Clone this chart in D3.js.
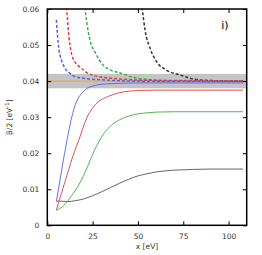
<!DOCTYPE html>
<html>
<head>
<meta charset="utf-8">
<script src="https://cdn.jsdelivr.net/npm/d3@7"></script>
<style>
  body { margin: 0; background: #fff; }
  svg text { font-family: "DejaVu Sans", sans-serif; }
</style>
</head>
<body>
<div id="chart"></div>
<script>
// x ticks and y ticks
const xTicks = [0, 25, 50, 75, 100];
const yTicks = [0, 0.01, 0.02, 0.03, 0.04, 0.05, 0.06];

// reference value and band
const refValue = 0.04;
const bandLow = 0.038, bandHigh = 0.042;

// solid curves
const blueSolidX = [5, 6, 7, 8, 9, 10, 11, 12, 13, 14, 15, 16, 18, 20, 22, 25, 28, 32, 40, 50, 108];
const blueSolidY = [0.0067, 0.0095, 0.0125, 0.0155, 0.0185, 0.0212, 0.024, 0.0265, 0.029, 0.031, 0.0328, 0.0342, 0.036, 0.0372, 0.038, 0.0386, 0.039, 0.0392, 0.0394, 0.0395, 0.0395];
const redSolidX = [5, 6, 7, 8, 10, 12, 14, 16, 18, 20, 22, 25, 28, 32, 36, 40, 45, 50, 60, 108];
const redSolidY = [0.0042, 0.006, 0.0076, 0.0092, 0.0125, 0.0158, 0.019, 0.0218, 0.0245, 0.0275, 0.03, 0.0325, 0.0342, 0.0354, 0.0362, 0.0368, 0.0372, 0.0374, 0.0375, 0.0375];
const greenSolidX = [5, 6, 8, 10, 12, 14, 16, 18, 20, 22, 24, 26, 28, 30, 32, 35, 40, 45, 50, 55, 60, 70, 108];
const greenSolidY = [0.0042, 0.0044, 0.005, 0.006, 0.0072, 0.0086, 0.0101, 0.0118, 0.0138, 0.016, 0.0185, 0.0208, 0.0228, 0.0245, 0.026, 0.0276, 0.0293, 0.0303, 0.0309, 0.0312, 0.0314, 0.0315, 0.0315];
const blackSolidX = [5, 8, 10, 12, 15, 20, 25, 30, 35, 40, 45, 50, 55, 60, 65, 70, 75, 80, 90, 108];
const blackSolidY = [0.0067, 0.0067, 0.0066, 0.0066, 0.0068, 0.0073, 0.0082, 0.0093, 0.0105, 0.0117, 0.0128, 0.0137, 0.0143, 0.0148, 0.0151, 0.0153, 0.0154, 0.0155, 0.0156, 0.0156];

// dashed curves
const blueDashX = [5, 5.5, 6, 7, 8, 9, 10, 12, 15, 20, 25, 32, 40, 50, 108];
const blueDashY = [0.057, 0.0535, 0.0505, 0.0472, 0.0455, 0.0443, 0.0434, 0.0424, 0.0413, 0.0408, 0.0405, 0.0403, 0.0401, 0.04, 0.0399];
const redDashX = [10.6, 11, 12, 13, 14, 15, 17, 19, 22, 25, 30, 35, 45, 60, 108];
const redDashY = [0.0605, 0.058, 0.052, 0.0485, 0.0465, 0.0455, 0.0443, 0.0435, 0.0423, 0.0416, 0.0411, 0.0408, 0.0404, 0.0402, 0.0401];
const greenDashX = [20.7, 22.6, 24, 26.3, 28.5, 30.9, 34.6, 39, 43, 46, 55, 70, 108];
const greenDashY = [0.0605, 0.0537, 0.0505, 0.0481, 0.046, 0.0444, 0.0431, 0.0424, 0.0418, 0.0412, 0.0405, 0.0401, 0.04];
const blackDashX = [52.3, 53.9, 56.7, 60.3, 65.9, 73.2, 84.2, 95, 108];
const blackDashY = [0.0605, 0.0542, 0.0491, 0.0454, 0.043, 0.0417, 0.0403, 0.0401, 0.04];

const W = 262, H = 255;
const margin = { top: 9, right: 15.3, bottom: 29.7, left: 47.3 };
const iw = W - margin.left - margin.right;
const ih = H - margin.top - margin.bottom;

const svg = d3.select("#chart").append("svg").attr("width", W).attr("height", H);
const g = svg.append("g").attr("transform", `translate(${margin.left},${margin.top})`);

const x = d3.scaleLinear().domain([0, 110]).range([0, iw]);
const y = d3.scaleLinear().domain([0, 0.06]).range([ih, 0]);

svg.append("defs").append("clipPath").attr("id", "clip")
  .append("rect").attr("width", iw).attr("height", ih);

const plot = g.append("g").attr("clip-path", "url(#clip)");

plot.append("rect")
  .attr("x", 0).attr("width", iw)
  .attr("y", y(bandHigh)).attr("height", y(bandLow) - y(bandHigh))
  .attr("fill", "#c4c4c4");

plot.append("line")
  .attr("x1", 0).attr("x2", iw)
  .attr("y1", y(refValue)).attr("y2", y(refValue))
  .attr("stroke", "#f0a030").attr("stroke-width", 1);

const line = d3.line().x(d => x(d[0])).y(d => y(d[1])).curve(d3.curveMonotoneX);

const series = [
  { xs: blackDashX, ys: blackDashY, color: "#333333", dash: true },
  { xs: greenDashX, ys: greenDashY, color: "#3cae3c", dash: true },
  { xs: redDashX, ys: redDashY, color: "#e03c3c", dash: true },
  { xs: blueDashX, ys: blueDashY, color: "#5a5aee", dash: true },
  { xs: blackSolidX, ys: blackSolidY, color: "#555555", dash: false },
  { xs: greenSolidX, ys: greenSolidY, color: "#3cae3c", dash: false },
  { xs: redSolidX, ys: redSolidY, color: "#e03c3c", dash: false },
  { xs: blueSolidX, ys: blueSolidY, color: "#5a5aee", dash: false }
];

series.forEach(s => {
  plot.append("path")
    .datum(s.xs.map((v, i) => [v, s.ys[i]]))
    .attr("fill", "none")
    .attr("stroke", s.color)
    .attr("stroke-width", s.dash ? 1.5 : 0.9)
    .attr("stroke-dasharray", s.dash ? "3,2" : null)
    .attr("d", line);
});

// axes with inward ticks on all sides
const tickLen = 4;
const axisStyle = sel => {
  sel.select(".domain").remove();
  sel.selectAll(".tick line").attr("stroke", "#000").attr("stroke-width", 1);
  sel.selectAll(".tick text").attr("fill", "#333").attr("font-size", "7.5px");
};

g.append("g").attr("transform", `translate(0,${ih})`)
  .call(d3.axisBottom(x).tickValues(xTicks).tickSizeInner(-tickLen).tickSizeOuter(0).tickPadding(8))
  .call(axisStyle);
g.append("g")
  .call(d3.axisTop(x).tickValues(xTicks).tickSizeInner(-tickLen).tickSizeOuter(0).tickFormat(""))
  .call(axisStyle);
g.append("g")
  .call(d3.axisLeft(y).tickValues(yTicks).tickSizeInner(-tickLen).tickSizeOuter(0).tickPadding(8)
    .tickFormat(d => d === 0 ? "0" : d3.format(".2f")(d)))
  .call(axisStyle);
g.append("g").attr("transform", `translate(${iw},0)`)
  .call(d3.axisRight(y).tickValues(yTicks).tickSizeInner(-tickLen).tickSizeOuter(0).tickFormat(""))
  .call(axisStyle);

g.append("rect").attr("width", iw).attr("height", ih)
  .attr("fill", "none").attr("stroke", "#000").attr("stroke-width", 1.5);

g.append("text")
  .attr("x", iw / 2).attr("y", ih + 24)
  .attr("text-anchor", "middle").attr("font-size", "7.5px").attr("fill", "#333")
  .text("x [eV]");

const yl = svg.append("text")
  .attr("transform", `translate(12,${margin.top + ih / 2}) rotate(-90)`)
  .attr("text-anchor", "middle").attr("font-size", "7.5px").attr("fill", "#333");
yl.append("tspan").text("β/2 [eV");
yl.append("tspan").attr("dy", -3).attr("font-size", "5.5px").text("-1");
yl.append("tspan").attr("dy", 3).text("]");

g.append("text")
  .attr("x", x(96)).attr("y", 20)
  .attr("font-size", "11px").attr("fill", "#000")
  .text("i)");
</script>
</body>
</html>
